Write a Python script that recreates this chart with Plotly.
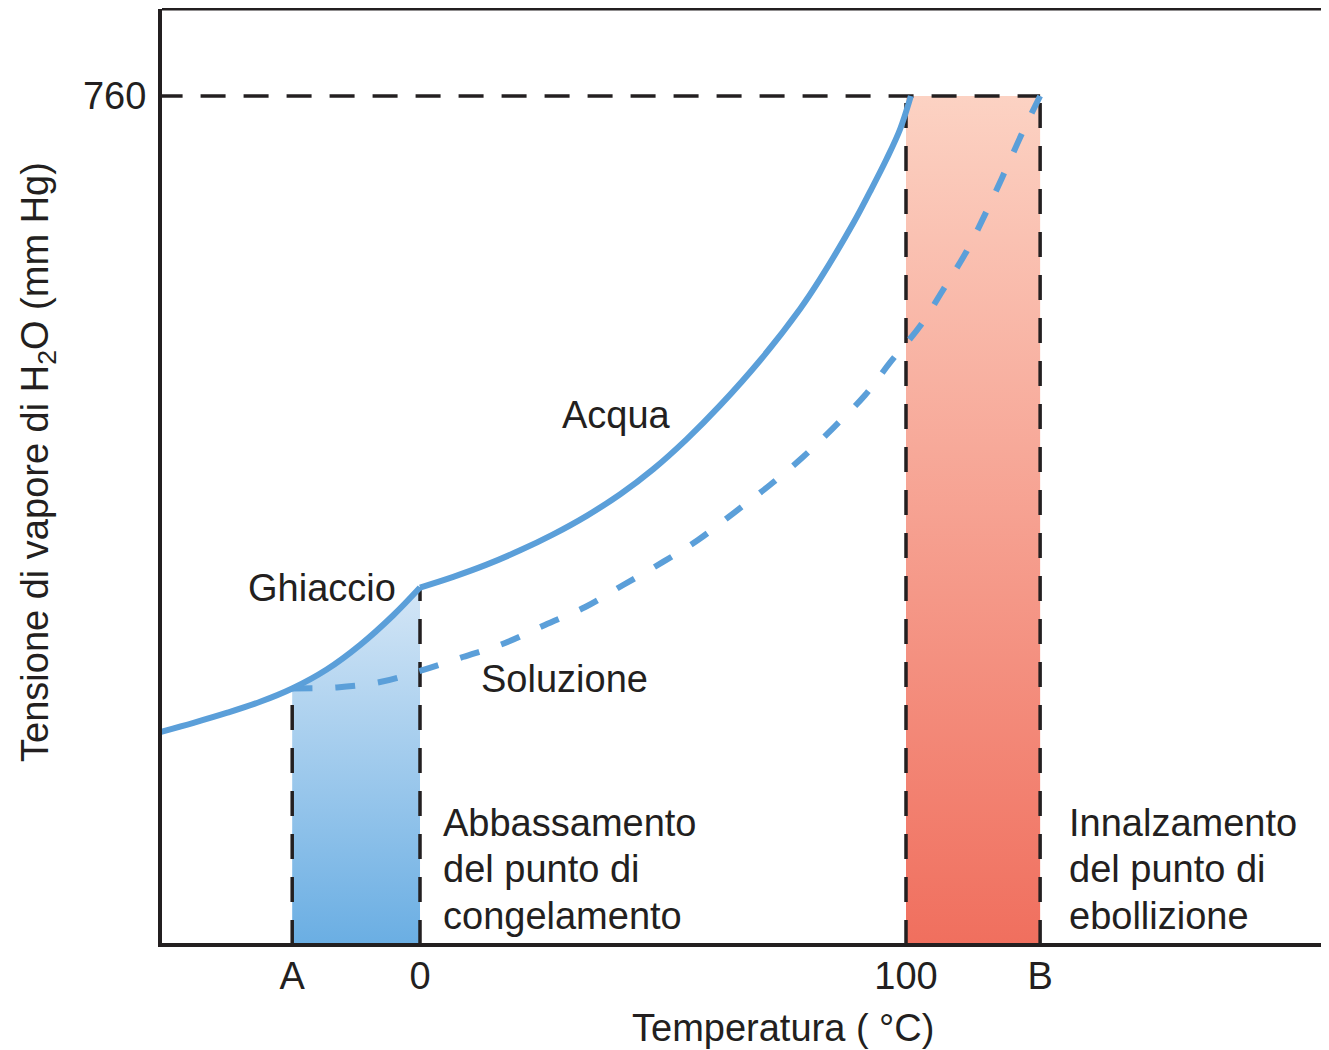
import plotly.graph_objects as go

# ---------------- data ----------------
temp_ticks = [-26.3, 0, 100, 127.6]
temp_tick_labels = ["A", "0", "100", "B"]
pressure_ticks = [760]
pressure_tick_labels = ["760"]

# ice (solid) vapour pressure curve
ice_t = [-54, -46.6, -39.8, -32.9, -26.3, -19.2, -12.3, -5.5, 0]
ice_p = [190, 198.9, 207.7, 217.7, 229.6, 246.6, 268.7, 295.2, 320]

# liquid water (solid) curve
water_t = [0, 6.85, 13.7, 20.6, 27.4, 34.3, 41.2, 48.0, 54.9, 61.7, 70.0, 78.2, 82.3, 89.2, 92.6, 96.0, 98.8, 101]
water_p = [320, 329.6, 340.5, 353.3, 367.6, 384.2, 403.5, 426.0, 452.9, 482.8, 523.5, 569.4, 596.1, 646.5, 674.4, 703.6, 730.5, 760]

# solution (dashed) curve
solution_t = [-26.3, -17.1, -8.2, 0, 8.8, 17.5, 25.7, 34.0, 41.8, 50.0, 57.2, 64.8, 72.0,
              78.8, 85.0, 91.6, 96.7, 102.9, 107.7, 112.5, 116.6, 120.4, 124.1, 127.6]
solution_p = [229.6, 230.6, 235.4, 245.3, 257.8, 270.4, 286.5, 302.6, 322.3, 342.9, 362.6, 387.6, 411.8,
              436.9, 462.8, 492.4, 521.3, 554.1, 587.0, 621.3, 657.1, 692.9, 728.7, 760]

T_A, T_0, T_100, T_B = temp_ticks
P_BOIL = pressure_ticks[0]

# ---------------- styles ----------------
INK = "#231f20"
CURVE = "#5b9fd9"
FONT = "Liberation Sans, Arial, Helvetica, sans-serif"

fig = go.Figure()

# blue gradient area (freezing point depression) under the ice curve between A and 0
fp_t = [t for t in ice_t if T_A <= t <= T_0]
fp_p = [p for t, p in zip(ice_t, ice_p) if T_A <= t <= T_0]
fig.add_trace(go.Scatter(
    x=fp_t + [T_0, T_A], y=fp_p + [0, 0], mode="lines", fill="toself",
    line=dict(width=0, color="rgba(0,0,0,0)"),
    fillgradient=dict(type="vertical", colorscale=[[0, "#6aaee3"], [1, "#d4e6f6"]]),
    hoverinfo="skip"))

# red gradient area (boiling point elevation) between 100 and B
fig.add_trace(go.Scatter(
    x=[T_100, T_B, T_B, T_100], y=[0, 0, P_BOIL, P_BOIL], mode="lines", fill="toself",
    line=dict(width=0, color="rgba(0,0,0,0)"),
    fillgradient=dict(type="vertical", colorscale=[[0, "#f06f5e"], [1, "#fcd2c3"]]),
    hoverinfo="skip"))

# black dashed reference lines
dash_style = dict(color=INK, width=3.5, dash="25px,18px")
fig.add_trace(go.Scatter(x=[ice_t[0], T_B], y=[P_BOIL, P_BOIL], mode="lines",
                         line=dash_style, hoverinfo="skip"))
for t_v, p_top in [(T_A, fp_p[0]), (T_0, ice_p[-1]), (T_100, P_BOIL), (T_B, P_BOIL)]:
    fig.add_trace(go.Scatter(x=[t_v, t_v], y=[0, p_top], mode="lines",
                             line=dash_style, hoverinfo="skip"))

# curves
fig.add_trace(go.Scatter(x=solution_t, y=solution_p, mode="lines",
                         line=dict(color=CURVE, width=6, dash="20px,23px", shape="spline", smoothing=1),
                         hoverinfo="skip"))
fig.add_trace(go.Scatter(x=ice_t, y=ice_p, mode="lines",
                         line=dict(color=CURVE, width=6, shape="spline", smoothing=1),
                         hoverinfo="skip"))
fig.add_trace(go.Scatter(x=water_t, y=water_p, mode="lines",
                         line=dict(color=CURVE, width=6, shape="spline", smoothing=1),
                         hoverinfo="skip"))

# labels
ann = []
def label(text, x, y, xanchor="center"):
    ann.append(dict(text=text, x=x, y=y, xref="x", yref="y", xanchor=xanchor, yanchor="middle",
                    showarrow=False, font=dict(family=FONT, size=38, color=INK)))

label("Ghiaccio", -20.2, 319.6)
label("Acqua", 40.5, 474.5)
label("Soluzione", 29.8, 238.1)
for txt, yv in zip(["Abbassamento", "del punto di", "congelamento"], [109.2, 68.0, 26.0]):
    label(txt, 4.4, yv, xanchor="left")
for txt, yv in zip(["Innalzamento", "del punto di", "ebollizione"], [109.2, 68.0, 26.0]):
    label(txt, 133.1, yv, xanchor="left")

# axis titles
ann.append(dict(text="Temperatura ( °C)", x=74.7, y=-0.091, xref="x", yref="paper",
                xanchor="center", yanchor="middle", showarrow=False,
                font=dict(family=FONT, size=38, color=INK)))
ann.append(dict(text="Tensione di vapore di H<sub>2</sub>O (mm Hg)", x=-0.1063, y=0.515,
                xref="paper", yref="paper", xanchor="center", yanchor="middle", textangle=-90,
                showarrow=False, font=dict(family=FONT, size=38, color=INK)))

fig.update_layout(
    width=1321, height=1042,
    margin=dict(l=154, r=0, t=1, b=107, pad=0),
    plot_bgcolor="white", paper_bgcolor="white",
    showlegend=False,
    font=dict(family=FONT, size=38, color=INK),
    annotations=ann,
    shapes=[dict(type="line", xref="paper", yref="paper", x0=0, x1=1, y0=1, y1=1,
                 line=dict(color=INK, width=3), layer="above")],
    xaxis=dict(range=[-53.09, 187.04], tickvals=temp_ticks, ticktext=temp_tick_labels,
               showgrid=False, zeroline=False, showline=True, linecolor=INK, linewidth=4,
               ticks="", ticklabelstandoff=-4, tickfont=dict(family=FONT, size=38, color=INK)),
    yaxis=dict(range=[1.79, 837.9], tickvals=pressure_ticks, ticktext=pressure_tick_labels,
               showgrid=False, zeroline=False, showline=True, linecolor=INK, linewidth=4,
               ticks="", ticklabelstandoff=4, tickfont=dict(family=FONT, size=38, color=INK)),
)

fig.write_html("out.html")
